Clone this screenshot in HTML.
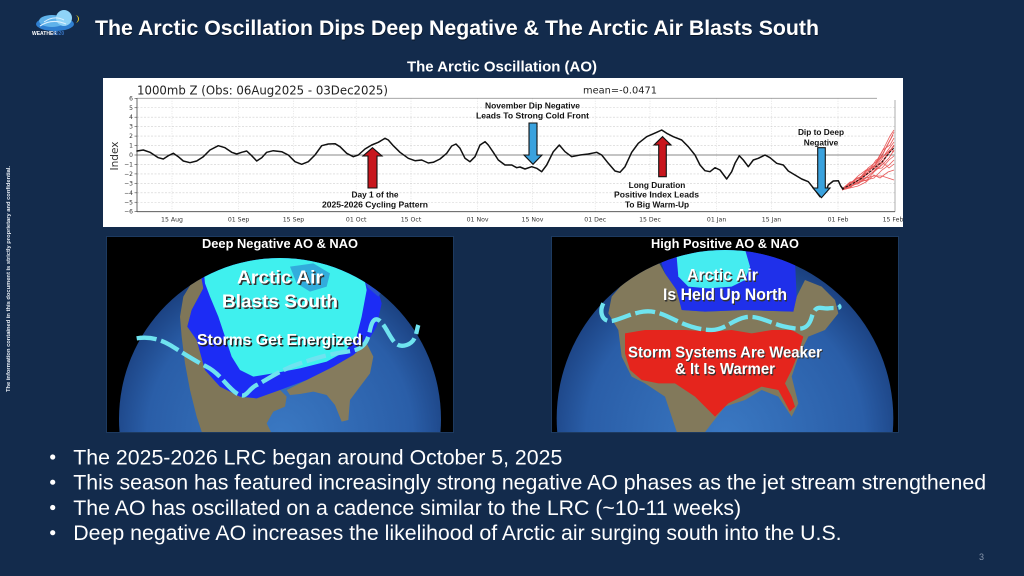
<!DOCTYPE html>
<html><head><meta charset="utf-8"><style>
html,body{margin:0;padding:0;background:#132b4c;}
svg{display:block;}
</style></head><body>
<svg width="1024" height="576" viewBox="0 0 1024 576" xmlns="http://www.w3.org/2000/svg">
<defs>
<radialGradient id="gl" cx="50%" cy="55%" r="55%">
<stop offset="0" stop-color="#3a78c2"/><stop offset="0.75" stop-color="#2a5ea8"/><stop offset="1" stop-color="#1a3f7e"/>
</radialGradient>
<clipPath id="cpL"><circle cx="540" cy="567" r="483"/></clipPath>
<clipPath id="cpR"><circle cx="540" cy="565" r="505"/></clipPath>
<clipPath id="panL"><rect x="107" y="237" width="346" height="195"/></clipPath>
<clipPath id="panR"><rect x="552" y="237" width="346" height="195"/></clipPath>
</defs>
<rect width="1024" height="576" fill="#132b4c"/>

<!-- logo -->
<g>
<ellipse cx="55" cy="24" rx="19" ry="7" fill="#2f7fd0"/>
<ellipse cx="52" cy="21" rx="13" ry="6" fill="#5fb2ea"/>
<circle cx="64" cy="18" r="8" fill="#8fd3f7"/>
<path d="M40,26 Q52,18 66,24" stroke="#d9f0ff" stroke-width="1.2" fill="none"/>
<path d="M44,22 Q54,15 64,20" stroke="#d9f0ff" stroke-width="1" fill="none"/>
<path d="M75,15 A4,4 0 0 1 75,23 A3,4 0 0 0 75,15Z" fill="#f2d21c"/>
<text x="32" y="35" font-family="Liberation Sans, sans-serif" font-size="5" font-weight="bold" fill="#ffffff">WEATHER</text>
<text x="53" y="35" font-family="Liberation Sans, sans-serif" font-size="5" font-weight="bold" fill="#3a78c8">2020</text>
</g>

<!-- title -->
<text x="95.5" y="36" font-family="Liberation Sans, sans-serif" font-size="21.2" font-weight="bold" fill="#000" opacity="0.5" textLength="724" lengthAdjust="spacingAndGlyphs">The Arctic Oscillation Dips Deep Negative &amp; The Arctic Air Blasts South</text>
<text x="95" y="35" font-family="Liberation Sans, sans-serif" font-size="21.2" font-weight="bold" fill="#ffffff" textLength="724" lengthAdjust="spacingAndGlyphs">The Arctic Oscillation Dips Deep Negative &amp; The Arctic Air Blasts South</text>
<text x="502" y="71.5" text-anchor="middle" font-family="Liberation Sans, sans-serif" font-size="14.8" font-weight="bold" fill="#ffffff" textLength="190" lengthAdjust="spacingAndGlyphs">The Arctic Oscillation (AO)</text>

<!-- vertical note -->
<text transform="translate(10,279) rotate(-90)" text-anchor="middle" font-family="Liberation Sans, sans-serif" font-size="5" font-weight="bold" fill="#e8eef5" textLength="226" lengthAdjust="spacingAndGlyphs">The information contained in this document is strictly proprietary and confidential.</text>

<!-- chart box -->
<rect x="103" y="78" width="800" height="149" fill="#ffffff"/>
<g font-family="DejaVu Sans, sans-serif">
<text x="137" y="94.3" font-size="12" fill="#222" textLength="251" lengthAdjust="spacingAndGlyphs">1000mb Z (Obs: 06Aug2025 - 03Dec2025)</text>
<text x="583" y="93.3" font-size="10" fill="#222" textLength="74" lengthAdjust="spacingAndGlyphs">mean=-0.0471</text>
</g>
<!-- gridlines -->
<g stroke="#cfcfcf" stroke-width="0.6" stroke-dasharray="2,1.5">
<line x1="137" x2="895" y1="107.75" y2="107.75"/>
<line x1="137" x2="895" y1="117.2" y2="117.2"/>
<line x1="137" x2="895" y1="126.65" y2="126.65"/>
<line x1="137" x2="895" y1="136.1" y2="136.1"/>
<line x1="137" x2="895" y1="145.55" y2="145.55"/>
<line x1="137" x2="895" y1="164.45" y2="164.45"/>
<line x1="137" x2="895" y1="173.9" y2="173.9"/>
<line x1="137" x2="895" y1="183.35" y2="183.35"/>
<line x1="137" x2="895" y1="192.8" y2="192.8"/>
<line x1="137" x2="895" y1="202.25" y2="202.25"/>
</g>
<g stroke="#d4d4d4" stroke-width="0.6" stroke-dasharray="1,1.5">
<line x1="172" x2="172" y1="98.3" y2="211.7"/>
<line x1="238.6" x2="238.6" y1="98.3" y2="211.7"/>
<line x1="293.5" x2="293.5" y1="98.3" y2="211.7"/>
<line x1="356.2" x2="356.2" y1="98.3" y2="211.7"/>
<line x1="411" x2="411" y1="98.3" y2="211.7"/>
<line x1="477.6" x2="477.6" y1="98.3" y2="211.7"/>
<line x1="532.5" x2="532.5" y1="98.3" y2="211.7"/>
<line x1="595.2" x2="595.2" y1="98.3" y2="211.7"/>
<line x1="650" x2="650" y1="98.3" y2="211.7"/>
<line x1="716.6" x2="716.6" y1="98.3" y2="211.7"/>
<line x1="771.5" x2="771.5" y1="98.3" y2="211.7"/>
<line x1="838" x2="838" y1="98.3" y2="211.7"/>
</g>
<line x1="137" x2="895" y1="155" y2="155" stroke="#8a8a8a" stroke-width="0.9"/>
<line x1="137" x2="877" y1="98.3" y2="98.3" stroke="#9a9a9a" stroke-width="0.9"/>
<line x1="895" x2="895" y1="100" y2="211.7" stroke="#9a9a9a" stroke-width="0.8"/>
<line x1="137" x2="137" y1="98.3" y2="211.7" stroke="#444" stroke-width="0.8"/>
<line x1="137" x2="895" y1="211.7" y2="211.7" stroke="#444" stroke-width="0.8"/>
<!-- y ticks -->
<g font-family="DejaVu Sans, sans-serif" font-size="6" fill="#333" text-anchor="end">
<text x="133" y="100.3">6</text><text x="133" y="109.8">5</text><text x="133" y="119.2">4</text><text x="133" y="128.7">3</text><text x="133" y="138.1">2</text><text x="133" y="147.6">1</text><text x="133" y="157">0</text><text x="133" y="166.5">−1</text><text x="133" y="175.9">−2</text><text x="133" y="185.4">−3</text><text x="133" y="194.8">−4</text><text x="133" y="204.3">−5</text><text x="133" y="213.7">−6</text>
</g>
<g stroke="#444" stroke-width="0.6">
<line x1="134.5" x2="137" y1="98.3" y2="98.3"/><line x1="134.5" x2="137" y1="107.75" y2="107.75"/><line x1="134.5" x2="137" y1="117.2" y2="117.2"/><line x1="134.5" x2="137" y1="126.65" y2="126.65"/><line x1="134.5" x2="137" y1="136.1" y2="136.1"/><line x1="134.5" x2="137" y1="145.55" y2="145.55"/><line x1="134.5" x2="137" y1="155" y2="155"/><line x1="134.5" x2="137" y1="164.45" y2="164.45"/><line x1="134.5" x2="137" y1="173.9" y2="173.9"/><line x1="134.5" x2="137" y1="183.35" y2="183.35"/><line x1="134.5" x2="137" y1="192.8" y2="192.8"/><line x1="134.5" x2="137" y1="202.25" y2="202.25"/><line x1="134.5" x2="137" y1="211.7" y2="211.7"/>
</g>
<text transform="translate(118,156) rotate(-90)" text-anchor="middle" font-family="DejaVu Sans, sans-serif" font-size="10.5" fill="#333">Index</text>
<!-- x ticks -->
<g font-family="DejaVu Sans, sans-serif" font-size="6.2" fill="#333" text-anchor="middle">
<text x="172" y="221.5">15 Aug</text><text x="238.6" y="221.5">01 Sep</text><text x="293.5" y="221.5">15 Sep</text><text x="356.2" y="221.5">01 Oct</text><text x="411" y="221.5">15 Oct</text><text x="477.6" y="221.5">01 Nov</text><text x="532.5" y="221.5">15 Nov</text><text x="595.2" y="221.5">01 Dec</text><text x="650" y="221.5">15 Dec</text><text x="716.6" y="221.5">01 Jan</text><text x="771.5" y="221.5">15 Jan</text><text x="838" y="221.5">01 Feb</text><text x="893" y="221.5">15 Feb</text>
</g>

<!-- ensemble -->
<g fill="none" stroke="#e02525" stroke-width="0.8" opacity="0.75">
<polyline points="842,189 850,184 858,180 866,174 874,166 882,155 890,140 894,132"/>
<polyline points="842,189 849,186 857,178 865,176 873,170 881,160 888,150 894,142"/>
<polyline points="843,188 851,183 859,182 867,170 875,165 883,150 890,145 894,138"/>
<polyline points="842,190 850,187 858,183 866,180 874,178 882,170 889,165 894,160"/>
<polyline points="842,189 852,182 860,177 868,172 876,160 884,156 890,150 894,152"/>
<polyline points="842,189 850,185 858,184 866,178 874,176 882,176 888,178 894,180"/>
<polyline points="842,189 851,186 860,179 868,168 876,162 884,148 890,136 894,130"/>
<polyline points="843,189 850,183 858,178 866,181 874,172 882,165 889,158 894,150"/>
<polyline points="842,190 850,188 858,186 866,182 874,175 880,178 888,172 894,170"/>
<polyline points="842,189 849,184 857,181 865,172 873,168 881,158 887,146 893,135"/>
<polyline points="842,189 850,184 858,176 866,170 874,167 882,162 889,168 894,164"/>
<polyline points="842,189 851,187 859,180 867,177 875,170 883,160 889,152 894,145"/>
<polyline points="842,190 848,186 856,184 864,179 872,173 880,166 887,156 894,146"/>
<polyline points="842,189 850,182 858,181 866,175 874,169 882,168 889,160 894,156"/>
</g>
<polyline points="842,189 852,184 862,178 872,170 882,162 890,152 894,148" fill="none" stroke="#111" stroke-width="1" stroke-dasharray="2.5,1.5"/>

<!-- observed AO line -->
<polyline fill="none" stroke="#111" stroke-width="1.5" stroke-linejoin="round" stroke-linecap="round" points="
137,151 143.3,150 150,152.3 158.3,157.7 163.3,159 168.3,155.7 173.3,153.3 178.3,156.7 183.3,161 190,162.7 196.7,161 203.3,156.7 210,150 218.3,145.7 225,147.7 231.7,152.3 236.7,154 241.7,152.3 246.7,151 251.7,155.7 256.7,161 261.7,157.7 266.7,152.3 273.3,150.7 281.7,151.7 288.3,155 295,161.7 301.7,164.3 308.3,161.7 315,155 321.7,145.7 328.3,144 335,143.7 340,146.7 346.7,153.3 353.3,156.7 358.3,155 365,149 371.7,145 378.3,142.3 385,138.3 388.3,140 393.3,145.7 400,152.3 408.3,158.3 415,160.7 421.7,160 428.3,163 433.3,162.3 440,159 446.7,153.3 451.7,146 456,144 460,148.3 465,158.3 470,161.7 475,156.7 480,145 485,141.7 488.3,145 493.3,152.3 498.3,160 505,165 511.7,165 516.7,167.7 520,167 525,169 531.7,166.7 536.7,168.3 541.7,171.7 546.7,165 553.3,151.7 559.3,145 565,151.7 571.7,156.7 580,155 588.3,154 596.7,152.3 601.7,155 608.3,163.3 615,171 620,172.3 625,166.7 631.7,152.3 638.3,143.3 646.7,136.7 656.7,132.3 661.7,130 666.7,133.3 673.3,136.7 681.7,140 688.3,146.7 695,155 700,165 705,170.7 710,171.7 715,167.7 720,170 726.7,179 731.7,171.7 735,163.3 739.3,155.7 743.3,160 748.3,166.7 753.3,160 758.3,158.3 765,155 770,157.7 776.7,163.3 783.3,165 788.3,171 795,175 801.7,179 808.3,181.7 815,190 820,196.7 825,193.3 828.3,185 833.3,181 838.3,180.7 840.7,186 843,189"/>

<!-- arrows -->
<g stroke="#111" stroke-width="1.1" stroke-linejoin="miter">
<polygon fill="#c8161d" points="372.5,147.7 363,156 368,156 368,188 377,188 377,156 382,156"/>
<polygon fill="#c8161d" points="662.5,136.7 654,145 658.7,145 658.7,176.7 666.3,176.7 666.3,145 671,145"/>
<polygon fill="#3aa2de" points="529,123 537,123 537,155 542,155 533,164.3 524,155 529,155"/>
<polygon fill="#3aa2de" points="817.7,147.7 825.3,147.7 825.3,188 830,188 821.5,197.7 813,188 817.7,188"/>
</g>
<!-- annotations -->
<g font-family="Liberation Sans, sans-serif" font-weight="bold" font-size="8.3" fill="#111" text-anchor="middle">
<text x="375" y="197.7">Day 1 of the</text>
<text x="375" y="207.7" textLength="106" lengthAdjust="spacingAndGlyphs">2025-2026 Cycling Pattern</text>
<text x="532.5" y="108.3" textLength="95" lengthAdjust="spacingAndGlyphs">November Dip Negative</text>
<text x="532.5" y="118.6" textLength="113" lengthAdjust="spacingAndGlyphs">Leads To Strong Cold Front</text>
<text x="657" y="188">Long Duration</text>
<text x="656.5" y="197.7" textLength="85" lengthAdjust="spacingAndGlyphs">Positive Index Leads</text>
<text x="657" y="207.7">To Big Warm-Up</text>
<text x="821" y="135">Dip to Deep</text>
<text x="821" y="145.5">Negative</text>
</g>

<!-- LEFT MAP -->
<rect x="106" y="236" width="348" height="197" fill="#1d3a60"/>
<g clip-path="url(#panL)">
<rect x="107" y="237" width="346" height="195" fill="#000"/>
<g transform="translate(100,230) scale(0.33333)">
<circle cx="540" cy="567" r="483" fill="url(#gl)"/>
<g clip-path="url(#cpL)">
<polygon fill="#7f7658" points="250,200 280,150 305,120 310,175 275,240 262,290 290,330 315,420 360,470 420,500 470,505 540,480 560,500 555,530 520,545 500,580 520,620 310,620 290,560 270,480 255,400 245,320 240,260"/>
<polygon fill="#857b5d" points="560,480 700,410 760,375 800,340 820,380 810,430 780,470 750,510 745,570 725,575 705,525 680,495 640,485 600,492 570,495"/>
<polygon fill="#1c2cf5" points="300,120 310,175 275,240 262,290 290,330 315,420 360,470 420,500 470,505 540,480 620,450 700,410 760,375 800,340 830,290 845,220 835,185 800,160 780,120 700,60 400,60"/>
<polygon fill="#3ff0ee" points="310,110 390,80 480,60 570,55 660,65 740,100 790,130 800,180 785,260 770,320 735,365 680,395 600,415 520,430 460,440 420,420 395,380 375,320 355,260 330,200 315,160"/>
<polygon fill="#2a7fd0" opacity="0.6" points="570,110 640,100 690,130 680,170 630,185 590,160"/>
<polygon fill="#2c5fb8" opacity="0.7" points="790,110 830,120 850,180 835,200 800,170"/>
</g>
<path d="M110,325 C150,318 185,330 210,345 S280,390 320,410 S380,470 410,490 S440,480 470,465 S540,420 600,400 S700,370 740,365 S800,350 810,300 S840,265 860,300 S890,355 920,345 S948,305 955,285" fill="none" stroke="#6fe3ef" stroke-width="13" stroke-dasharray="60,14"/>
</g>
</g>
<g font-family="Liberation Sans, sans-serif" font-weight="bold" text-anchor="middle">
<text x="281" y="249" font-size="12.5" fill="#000" textLength="156" lengthAdjust="spacingAndGlyphs">Deep Negative AO &amp; NAO</text>
<text x="280" y="248" font-size="12.5" fill="#fff" textLength="156" lengthAdjust="spacingAndGlyphs">Deep Negative AO &amp; NAO</text>
<text x="281.5" y="284.8" font-size="18.5" fill="#333" textLength="86" lengthAdjust="spacingAndGlyphs">Arctic Air</text>
<text x="280" y="283.3" font-size="18.5" fill="#fff" textLength="86" lengthAdjust="spacingAndGlyphs">Arctic Air</text>
<text x="281.5" y="309.2" font-size="18.5" fill="#333" textLength="116" lengthAdjust="spacingAndGlyphs">Blasts South</text>
<text x="280" y="307.7" font-size="18.5" fill="#fff" textLength="116" lengthAdjust="spacingAndGlyphs">Blasts South</text>
<text x="281" y="346.3" font-size="15.8" fill="#222" textLength="165" lengthAdjust="spacingAndGlyphs">Storms Get Energized</text>
<text x="279.5" y="345" font-size="15.8" fill="#fff" textLength="165" lengthAdjust="spacingAndGlyphs">Storms Get Energized</text>
</g>

<!-- RIGHT MAP -->
<rect x="551" y="236" width="348" height="197" fill="#1d3a60"/>
<g clip-path="url(#panR)">
<rect x="552" y="237" width="346" height="195" fill="#000"/>
<g transform="translate(545,230) scale(0.33333)">
<circle cx="540" cy="565" r="505" fill="url(#gl)"/>
<g clip-path="url(#cpR)">
<polygon fill="#82795b" points="200,200 260,130 340,95 360,130 395,180 410,240 480,245 600,240 745,245 755,200 780,150 830,170 870,210 880,250 840,300 790,320 760,380 740,440 760,520 740,560 700,500 650,480 600,510 540,530 500,580 470,620 400,620 380,560 360,500 300,460 260,440 230,380 220,300 190,250"/>
<polygon fill="#1f30ea" points="345,85 420,55 600,50 700,60 750,90 755,200 745,245 600,240 480,245 410,240 395,180 360,130"/>
<polygon fill="#45ecf0" points="395,80 450,58 600,58 615,110 600,150 560,170 490,175 430,170 400,140"/>
<polygon fill="#e5251d" points="240,310 300,300 420,300 500,305 560,300 620,310 680,300 740,300 775,320 760,370 740,420 720,460 740,500 750,530 735,545 700,480 650,470 600,495 550,520 510,560 480,530 450,500 420,480 390,460 340,460 290,450 255,420 240,370"/>
</g>
<path d="M175,220 C160,250 175,280 205,272 S260,250 295,245 S360,255 390,270 S460,300 500,300 S560,270 600,262 S680,282 720,290 S788,305 800,262 S830,238 850,235 S892,238 880,225" fill="none" stroke="#6fe3ef" stroke-width="13" stroke-dasharray="60,14"/>
</g>
</g>
<g font-family="Liberation Sans, sans-serif" font-weight="bold" text-anchor="middle">
<text x="726" y="249" font-size="12.5" fill="#000" textLength="148" lengthAdjust="spacingAndGlyphs">High Positive AO &amp; NAO</text>
<text x="725" y="248" font-size="12.5" fill="#fff" textLength="148" lengthAdjust="spacingAndGlyphs">High Positive AO &amp; NAO</text>
<text x="723.5" y="282" font-size="17" fill="#333" textLength="71" lengthAdjust="spacingAndGlyphs">Arctic Air</text>
<text x="722.5" y="280.7" font-size="17" fill="#fff" textLength="71" lengthAdjust="spacingAndGlyphs">Arctic Air</text>
<text x="726" y="301.3" font-size="17" fill="#333" textLength="124" lengthAdjust="spacingAndGlyphs">Is Held Up North</text>
<text x="725" y="300" font-size="17" fill="#fff" textLength="124" lengthAdjust="spacingAndGlyphs">Is Held Up North</text>
<text x="726" y="358.6" font-size="15.5" fill="#333" textLength="194" lengthAdjust="spacingAndGlyphs">Storm Systems Are Weaker</text>
<text x="725" y="357.3" font-size="15.5" fill="#fff" textLength="194" lengthAdjust="spacingAndGlyphs">Storm Systems Are Weaker</text>
<text x="726" y="375.3" font-size="15.5" fill="#333" textLength="100" lengthAdjust="spacingAndGlyphs">&amp; It Is Warmer</text>
<text x="725" y="374" font-size="15.5" fill="#fff" textLength="100" lengthAdjust="spacingAndGlyphs">&amp; It Is Warmer</text>
</g>

<!-- bullets -->
<g font-family="Liberation Sans, sans-serif" font-size="21.3" fill="#ffffff">
<circle cx="52.7" cy="457" r="2.6"/>
<circle cx="52.7" cy="482.2" r="2.6"/>
<circle cx="52.7" cy="507.5" r="2.6"/>
<circle cx="52.7" cy="532.7" r="2.6"/>
<text x="73.3" y="464.5">The 2025-2026 LRC began around October 5, 2025</text>
<text x="73.3" y="489.7">This season has featured increasingly strong negative AO phases as the jet stream strengthened</text>
<text x="73.3" y="515">The AO has oscillated on a cadence similar to the LRC (~10-11 weeks)</text>
<text x="73.3" y="540.2">Deep negative AO increases the likelihood of Arctic air surging south into the U.S.</text>
</g>
<text x="979" y="560" font-family="Liberation Sans, sans-serif" font-size="9" fill="#8594aa">3</text>
</svg>
</body></html>
